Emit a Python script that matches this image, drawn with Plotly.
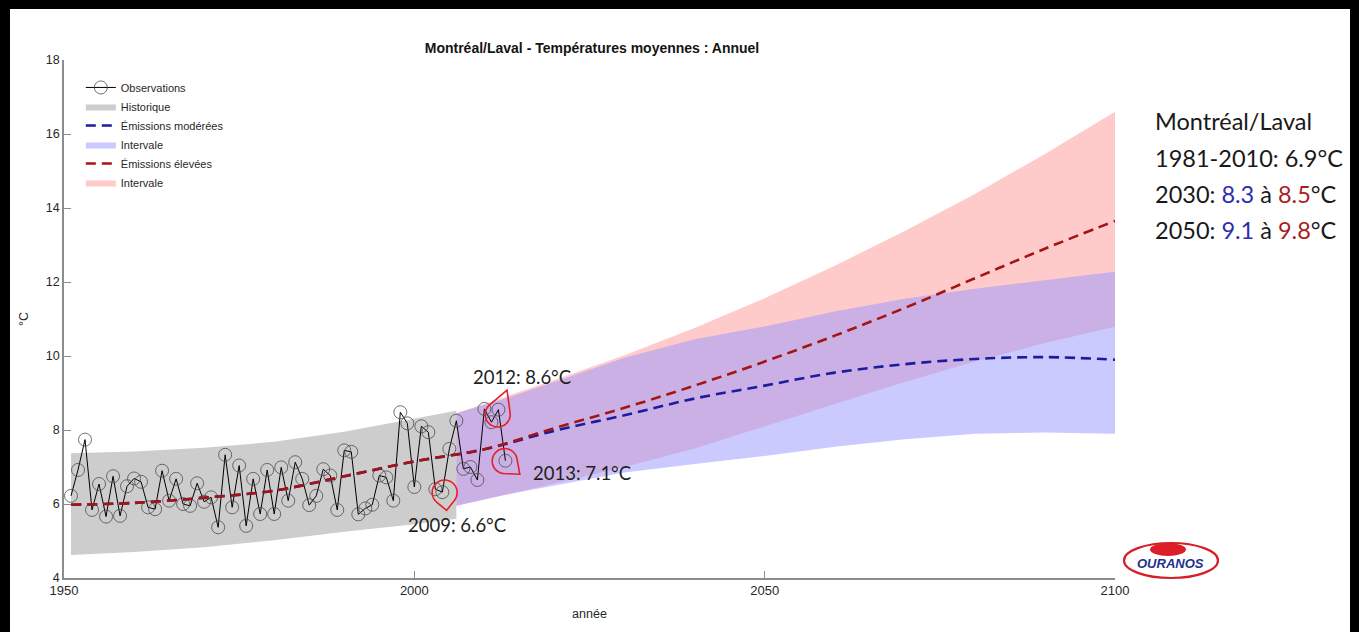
import numpy as np
import plotly.graph_objects as go

# ---------------- data ----------------
obs_years = [1951, 1952, 1953, 1954, 1955, 1956, 1957, 1958, 1959, 1960,
             1961, 1962, 1963, 1964, 1965, 1966, 1967, 1968, 1969, 1970,
             1971, 1972, 1973, 1974, 1975, 1976, 1977, 1978, 1979, 1980,
             1981, 1982, 1983, 1984, 1985, 1986, 1987, 1988, 1989, 1990,
             1991, 1992, 1993, 1994, 1995, 1996, 1997, 1998, 1999, 2000,
             2001, 2002, 2003, 2004, 2005, 2006, 2007, 2008, 2009, 2010,
             2011, 2012, 2013]
obs_temps = [6.22, 6.92, 7.74, 5.84, 6.54, 5.66, 6.75, 5.68, 6.48, 6.69,
             6.60, 5.91, 5.86, 6.90, 6.09, 6.68, 6.00, 5.95, 6.56, 6.06,
             6.18, 5.37, 7.33, 5.91, 7.04, 5.41, 6.68, 5.73, 6.92, 5.73,
             6.99, 6.09, 7.13, 6.68, 5.97, 6.22, 6.94, 6.77, 5.84, 7.45,
             7.41, 5.72, 5.88, 5.98, 6.77, 6.72, 6.09, 8.48, 8.18, 6.46,
             8.10, 7.94, 6.40, 6.32, 7.49, 8.25, 6.95, 7.00, 6.65, 8.57,
             8.21, 8.55, 7.17]

hist_years = [1951, 1960, 1970, 1980, 1990, 2000, 2006]
hist_low = [4.62, 4.70, 4.83, 5.02, 5.25, 5.45, 5.60]
hist_high = [7.37, 7.42, 7.52, 7.68, 7.95, 8.30, 8.52]

proj_years = [2006, 2013, 2020, 2030, 2040, 2050, 2060, 2070, 2080, 2090, 2100]
mod_low = [5.95, 6.25, 6.50, 6.85, 7.08, 7.30, 7.55, 7.75, 7.90, 7.93, 7.90]
mod_high = [8.45, 8.85, 9.30, 9.95, 10.45, 10.80, 11.20, 11.55, 11.82, 12.05, 12.28]
high_low = [5.95, 6.25, 6.55, 7.00, 7.50, 8.10, 8.70, 9.30, 9.85, 10.35, 10.79]
high_high = [8.45, 8.90, 9.35, 10.02, 10.76, 11.56, 12.44, 13.38, 14.38, 15.46, 16.60]

line_years = [1951, 1960, 1970, 1980, 1990, 2000, 2010, 2020, 2030, 2040,
              2050, 2060, 2070, 2080, 2090, 2100]
mod_mean = [5.98, 6.03, 6.17, 6.36, 6.75, 7.15, 7.48, 7.98, 8.40, 8.85,
            9.20, 9.55, 9.78, 9.92, 9.97, 9.90]
high_mean = [5.98, 6.03, 6.17, 6.36, 6.75, 7.15, 7.48, 8.05, 8.60, 9.20,
             9.85, 10.55, 11.30, 12.10, 12.90, 13.65]

# callouts: label text, label position, balloon centre
callout_labels = ["2009: 6.6°C", "2012: 8.6°C", "2013: 7.1°C"]
callout_label_x = [2006.1, 2015.3, 2023.9]
callout_label_y = [5.43, 9.43, 6.84]
balloon_x = [2004.33, 2011.9, 2012.90]
balloon_y = [6.31, 8.42, 7.16]
balloon_tip_angle = [-84, 69, -41]   # degrees
balloon_tip_dist = [18, 26, 20]      # px

summary_title = "Montréal/Laval"
summary_ref = "1981-2010: 6.9°C"
summary_years = ["2030", "2050"]
summary_mod = ["8.3", "9.1"]
summary_high = ["8.5", "9.8"]

x_ticks = [1950, 2000, 2050, 2100]
y_ticks = [4, 6, 8, 10, 12, 14, 16, 18]

# ---------------- styles ----------------
GRAY = "rgb(205,205,205)"
BLUE_FILL = "rgba(150,150,255,0.5)"
RED_FILL = "rgba(255,150,150,0.5)"
BLUE_LINE = "rgb(28,28,160)"
RED_LINE = "rgb(165,20,20)"
AX = "rgb(140,140,140)"
TXT = "rgb(40,40,40)"

W, H = 1359, 632
PL, PR, PT, PB = 64, 1115, 60, 578   # plot area in page pixels


def band(xs, lo, hi):
    return list(xs) + list(xs)[::-1], list(hi) + list(lo)[::-1]


def px_x(p):
    return (p - PL) / (PR - PL)


def px_y(p):
    return (PB - p) / (PB - PT)


fig = go.Figure()

bx, by = band(hist_years, hist_low, hist_high)
fig.add_trace(go.Scatter(x=bx, y=by, fill="toself", fillcolor=GRAY, mode="lines",
                         line=dict(width=0, color=GRAY), name="Historique",
                         legendrank=2, hoverinfo="skip"))
bx, by = band(proj_years, high_low, high_high)
fig.add_trace(go.Scatter(x=bx, y=by, fill="toself", fillcolor=RED_FILL, mode="lines",
                         line=dict(width=0, color=RED_FILL), name="Intervale",
                         legendrank=6, hoverinfo="skip"))
bx, by = band(proj_years, mod_low, mod_high)
fig.add_trace(go.Scatter(x=bx, y=by, fill="toself", fillcolor=BLUE_FILL, mode="lines",
                         line=dict(width=0, color=BLUE_FILL), name="Intervale",
                         legendrank=4, hoverinfo="skip"))

fig.add_trace(go.Scatter(x=obs_years, y=obs_temps, mode="lines+markers",
                         line=dict(color="black", width=1),
                         marker=dict(symbol="circle-open", size=13,
                                     color="rgba(70,70,70,0.85)",
                                     line=dict(width=0.9)),
                         name="Observations", legendrank=1))

fig.add_trace(go.Scatter(x=line_years, y=mod_mean, mode="lines",
                         line=dict(color=BLUE_LINE, width=2.6, dash="10px,6px", shape="spline"),
                         name="Émissions modérées", legendrank=3))
fig.add_trace(go.Scatter(x=line_years, y=high_mean, mode="lines",
                         line=dict(color=RED_LINE, width=2.6, dash="10px,6px", shape="spline"),
                         name="Émissions élevées", legendrank=5))

# balloons (teardrop outlines, sized in pixels around anchors)
shapes = []
R = 12.5
for cx, cy, ang, d in zip(balloon_x, balloon_y, balloon_tip_angle, balloon_tip_dist):
    a = np.deg2rad(ang)
    tip = (d * np.cos(a), d * np.sin(a))
    half = np.arccos(R / d)
    ts = np.linspace(a + half, a - half + 2 * np.pi, 40)
    pts = [tip] + [(R * np.cos(t), R * np.sin(t)) for t in ts]
    path = "M " + " L ".join(f"{px:.2f},{py:.2f}" for px, py in pts) + " Z"
    shapes.append(dict(type="path", xref="x", yref="y", xsizemode="pixel",
                       ysizemode="pixel", xanchor=cx, yanchor=cy, path=path,
                       line=dict(color="rgb(230,30,40)", width=1.6)))

annotations = []
for txt, lx, ly in zip(callout_labels, callout_label_x, callout_label_y):
    annotations.append(dict(x=lx, y=ly, xref="x", yref="y", text=txt, showarrow=False,
                            xanchor="center", yanchor="middle",
                            font=dict(family="Lato", size=18.5, color="rgb(30,30,30)")))

# summary text on the right
sum_lines = [summary_title, summary_ref]
for yr, m, h in zip(summary_years, summary_mod, summary_high):
    sum_lines.append(f"{yr}: <span style='color:rgb(45,45,175)'>{m}</span> à "
                     f"<span style='color:rgb(170,30,30)'>{h}</span>°C")
for i, t in enumerate(sum_lines):
    annotations.append(dict(x=px_x(1153), y=px_y(121 + 36.5 * i),
                            xref="paper", yref="paper", xanchor="left", yanchor="middle",
                            text=t, showarrow=False,
                            font=dict(family="Lato", size=23.5, color="rgb(25,25,25)")))

# logo
shapes.append(dict(type="circle", xref="paper", yref="paper",
                   x0=px_x(1124), x1=px_x(1218), y0=px_y(578), y1=px_y(543),
                   line=dict(color="rgb(215,30,40)", width=2.2)))
shapes.append(dict(type="circle", xref="paper", yref="paper",
                   x0=px_x(1150), x1=px_x(1186), y0=px_y(556), y1=px_y(543),
                   fillcolor="rgb(220,30,40)", line=dict(width=0)))
annotations.append(dict(x=px_x(1170), y=px_y(563), xref="paper", yref="paper",
                        xanchor="center", yanchor="middle",
                        text="<b><i>OURANOS</i></b>", showarrow=False,
                        font=dict(family="Liberation Sans", size=13, color="rgb(30,50,140)")))

# black frame around the picture
frame = dict(color="black", width=0)
shapes.append(dict(type="rect", xref="paper", yref="paper", x0=px_x(0), x1=px_x(10),
                   y0=px_y(H), y1=px_y(0), fillcolor="black", line=frame))
shapes.append(dict(type="rect", xref="paper", yref="paper", x0=px_x(0), x1=px_x(W),
                   y0=px_y(9), y1=px_y(0), fillcolor="black", line=frame))
shapes.append(dict(type="rect", xref="paper", yref="paper", x0=px_x(1350), x1=px_x(W),
                   y0=px_y(H), y1=px_y(0), fillcolor="black", line=frame))

fig.update_layout(
    width=W, height=H,
    margin=dict(l=PL, r=W - PR, t=PT, b=H - PB),
    paper_bgcolor="white", plot_bgcolor="white",
    title=dict(text="<b>Montréal/Laval - Températures moyennes : Annuel</b>",
               x=px_x(592), xref="paper", xanchor="center",
               y=1 - 48 / H, yref="container", yanchor="middle",
               font=dict(family="Liberation Sans", size=14, color="rgb(20,20,20)")),
    font=dict(family="Liberation Sans", color=TXT),
    showlegend=True,
    legend=dict(x=0.016, y=0.975, xanchor="left", yanchor="top",
                bgcolor="rgba(0,0,0,0)", borderwidth=0,
                font=dict(family="Liberation Sans", size=11, color=TXT),
                tracegroupgap=0, itemwidth=30),
    shapes=shapes, annotations=annotations,
)
fig.update_xaxes(range=[1950, 2100], tickvals=x_ticks, ticks="inside", ticklen=7,
                 tickcolor=AX, showline=True, linecolor=AX, linewidth=1.5,
                 showgrid=False, zeroline=False, mirror=False,
                 tickfont=dict(family="Liberation Sans", size=13, color=TXT),
                 title=dict(text="année", standoff=12,
                            font=dict(family="Liberation Sans", size=12.5, color=TXT)))
fig.update_yaxes(range=[4, 18], tickvals=y_ticks, ticks="inside", ticklen=7,
                 tickcolor=AX, showline=True, linecolor=AX, linewidth=1.5,
                 showgrid=False, zeroline=False,
                 tickfont=dict(family="Liberation Sans", size=12.5, color=TXT),
                 title=dict(text="°C", standoff=14,
                            font=dict(family="Liberation Sans", size=12.5, color=TXT)))

fig.write_html("out.html", config={"displayModeBar": False},
               post_script="document.body.style.margin='0';document.body.style.overflow='hidden';")
